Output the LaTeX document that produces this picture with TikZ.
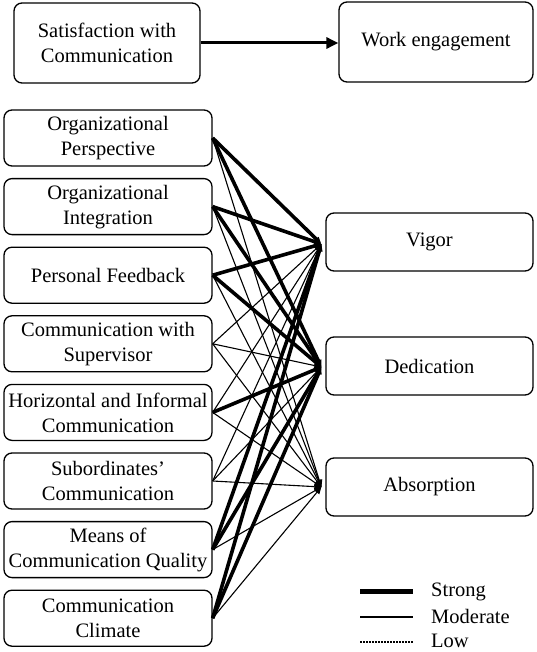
\documentclass[tikz,border=0pt]{standalone}
\usepackage{fontspec}
\setmainfont{Liberation Serif}
\usetikzlibrary{arrows.meta,calc}
\begin{document}
\begin{tikzpicture}[x=1bp,y=-1bp,
 txt/.style={font=\fontsize{20.5bp}{25bp}\selectfont},
 box/.style={txt,draw,line width=1.3bp,rounded corners=8bp,align=center,inner sep=0pt},
 lbox/.style={box,minimum width=208bp,minimum height=56bp},
 rbox/.style={box,minimum width=207bp,minimum height=58bp},
 link/.style={-{Triangle[length=7bp,width=6bp]}},
 strong/.style={link,line width=3.6bp},
 moderate/.style={link,line width=1.1bp},
 low/.style={line width=1.4bp,dash pattern=on 1.5bp off 1.5bp},
 lbl/.style={txt,anchor=west,inner sep=0pt}]
\fill[white] (0,0) rectangle (537,652);
\useasboundingbox (0,0) rectangle (537,652);
% top
\node[box,minimum width=186bp,minimum height=80bp] (sat) at (107,43) {Satisfaction with\\Communication};
\node[box,minimum width=194bp,minimum height=80bp] (work) at (436,42) {Work engagement};
\draw[line width=3bp,-{Triangle[length=12bp,width=11bp]}] (sat.east) -- (sat.east -| work.west);
% left boxes
\node[lbox] (op) at (108,138.0) {Organizational\\Perspective};
\node[lbox] (oi) at (108,206.6) {Organizational\\Integration};
\node[lbox] (pf) at (108,275.2) {Personal Feedback};
\node[lbox] (cs) at (108,343.8) {Communication with\\Supervisor};
\node[lbox] (hi) at (108,412.4) {Horizontal and Informal\\Communication};
\node[lbox] (sc) at (108,481.0) {Subordinates’\\Communication};
\node[lbox] (mq) at (108,549.6) {Means of\\Communication Quality};
\node[lbox] (cc) at (108,618.2) {Communication\\Climate};
% right boxes
\node[rbox] (vig) at (429.5,242) {Vigor};
\node[rbox] (ded) at (429.5,366) {Dedication};
\node[rbox] (abs) at (429.5,487) {Absorption};
\coordinate (vc) at ($(vig.west)+(-4,2)$);
\coordinate (dc) at ($(ded.west)+(-4,1)$);
\coordinate (ac) at ($(abs.west)+(-4,0)$);
% moderate links
\foreach \s in {op,oi,pf,cs,hi,sc,mq,cc} \draw[moderate] (\s.east) -- (ac);
\foreach \s in {cs,hi,sc} \draw[moderate] (\s.east) -- (vc);
\foreach \s in {cs,sc} \draw[moderate] (\s.east) -- (dc);
% strong links
\foreach \s in {op,oi,pf,mq,cc} \draw[strong] (\s.east) -- (vc);
\foreach \s in {op,oi,pf,hi,mq,cc} \draw[strong] (\s.east) -- (dc);
% legend
\coordinate (l1a) at (360,591); \coordinate (l1b) at (413,591);
\coordinate (l2a) at (360,617); \coordinate (l2b) at (413,617);
\coordinate (l3a) at (360,642); \coordinate (l3b) at (413,642);
\draw[line width=5bp] (l1a) -- (l1b);
\draw[line width=2bp] (l2a) -- (l2b);
\draw[low] (l3a) -- (l3b);
\node[lbl] (ls) at (431,592) {Strong};
\node[lbl] (lm) at (431,616) {Moderate};
\node[lbl] (ll) at (431,641) {Low};
\end{tikzpicture}
\end{document}
